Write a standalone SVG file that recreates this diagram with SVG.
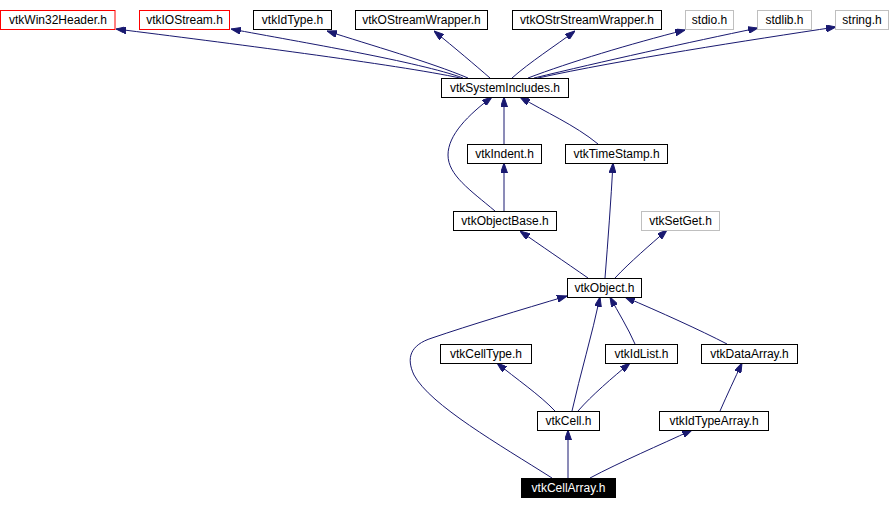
<svg xmlns="http://www.w3.org/2000/svg" width="890" height="509" viewBox="0 0 890 509">
<style>
.n rect{fill:#fff;stroke:#000;stroke-width:1}
.n.red rect{stroke:#ff0000}
.n.gray rect{stroke:#bfbfbf}
.n.cur rect{fill:#000;stroke:#000}
.n text{font-family:"Liberation Sans",Arial,sans-serif;font-size:12px;text-anchor:middle;fill:#000}
.n.cur text{fill:#fff}
#edges path{fill:none;stroke:#191970;stroke-width:1;marker-end:url(#ah)}
</style>
<defs>
<marker id="ah" viewBox="0 0 10 7" refX="10" refY="3.5" markerWidth="10" markerHeight="7" markerUnits="userSpaceOnUse" orient="auto">
<path d="M0,0 L10,3.5 L0,7 z" fill="#191970" stroke="#191970"/>
</marker>
</defs>
<rect width="890" height="509" fill="#fff"/>
<g id="edges">
<path d="M460,78 C400,65 220,42 116,29"/>
<path d="M463,78 C420,62 300,42 231,29"/>
<path d="M468,78 C430,62 370,45 327,31"/>
<path d="M490,78 C475,65 455,48 434,31"/>
<path d="M512,78 C530,62 555,46 575,31"/>
<path d="M528,78 C570,62 630,44 685,30"/>
<path d="M534,78 C600,62 690,42 758,28"/>
<path d="M538,78 C620,60 750,40 836,27"/>
<path d="M504,144 L504,97"/>
<path d="M495,211 C470,190 448,175 448,155 C448,135 468,115 492,97"/>
<path d="M598,144 C575,125 545,112 520,97"/>
<path d="M504,211 L504,163"/>
<path d="M588,278 C565,262 540,245 520,231"/>
<path d="M605,278 C608,240 611,200 613,163"/>
<path d="M615,278 C630,262 650,245 667,230"/>
<path d="M552,478 C500,445 430,405 414,375 C406,358 410,345 432,338 C470,325 520,310 567,296"/>
<path d="M572,411 C580,375 592,335 600,297"/>
<path d="M555,411 C540,395 515,378 497,363"/>
<path d="M578,411 C592,395 612,378 630,363"/>
<path d="M635,344 C628,328 618,312 610,297"/>
<path d="M727,344 C700,330 660,312 625,297"/>
<path d="M720,411 C727,395 735,378 742,363"/>
<path d="M568,478 L568,430"/>
<path d="M590,478 C620,462 660,445 692,430"/>
</g>
<g id="vtkWin32Header" class="n red"><rect x="0.5" y="10.5" width="114.5" height="19"/><text x="58" y="24">vtkWin32Header.h</text></g>
<g id="vtkIOStream" class="n red"><rect x="139.5" y="10.5" width="90" height="19"/><text x="184.5" y="24">vtkIOStream.h</text></g>
<g id="vtkIdType" class="n"><rect x="253.5" y="10.5" width="78" height="19"/><text x="292.5" y="24">vtkIdType.h</text></g>
<g id="vtkOStreamWrapper" class="n"><rect x="355.5" y="10.5" width="132" height="19"/><text x="421.5" y="24">vtkOStreamWrapper.h</text></g>
<g id="vtkOStrStreamWrapper" class="n"><rect x="512.5" y="10.5" width="149" height="19"/><text x="587" y="24">vtkOStrStreamWrapper.h</text></g>
<g id="stdio" class="n gray"><rect x="685.5" y="10.5" width="48" height="19"/><text x="709.5" y="24">stdio.h</text></g>
<g id="stdlib" class="n gray"><rect x="757.5" y="10.5" width="54" height="19"/><text x="784.5" y="24">stdlib.h</text></g>
<g id="string" class="n gray"><rect x="835.5" y="10.5" width="53" height="19"/><text x="862" y="24">string.h</text></g>
<g id="vtkSystemIncludes" class="n"><rect x="441.5" y="78.5" width="127" height="19"/><text x="505" y="92">vtkSystemIncludes.h</text></g>
<g id="vtkIndent" class="n"><rect x="467.5" y="144.5" width="74" height="19"/><text x="504.5" y="158">vtkIndent.h</text></g>
<g id="vtkTimeStamp" class="n"><rect x="565.5" y="144.5" width="102" height="19"/><text x="616.5" y="158">vtkTimeStamp.h</text></g>
<g id="vtkObjectBase" class="n"><rect x="453.5" y="211.5" width="103" height="19"/><text x="505" y="225">vtkObjectBase.h</text></g>
<g id="vtkSetGet" class="n gray"><rect x="641.5" y="211.5" width="78" height="19"/><text x="680.5" y="225">vtkSetGet.h</text></g>
<g id="vtkObject" class="n"><rect x="567.5" y="278.5" width="74" height="19"/><text x="604.5" y="292">vtkObject.h</text></g>
<g id="vtkCellType" class="n"><rect x="440.5" y="344.5" width="91" height="19"/><text x="486" y="358">vtkCellType.h</text></g>
<g id="vtkIdList" class="n"><rect x="605.5" y="344.5" width="72" height="19"/><text x="641.5" y="358">vtkIdList.h</text></g>
<g id="vtkDataArray" class="n"><rect x="701.5" y="344.5" width="96" height="19"/><text x="749.5" y="358">vtkDataArray.h</text></g>
<g id="vtkCell" class="n"><rect x="537.5" y="411.5" width="62" height="19"/><text x="568.5" y="425">vtkCell.h</text></g>
<g id="vtkIdTypeArray" class="n"><rect x="659.5" y="411.5" width="109" height="19"/><text x="714" y="425">vtkIdTypeArray.h</text></g>
<g id="vtkCellArray" class="n cur"><rect x="521.5" y="478.5" width="94" height="19"/><text x="568.5" y="492">vtkCellArray.h</text></g>
</svg>
